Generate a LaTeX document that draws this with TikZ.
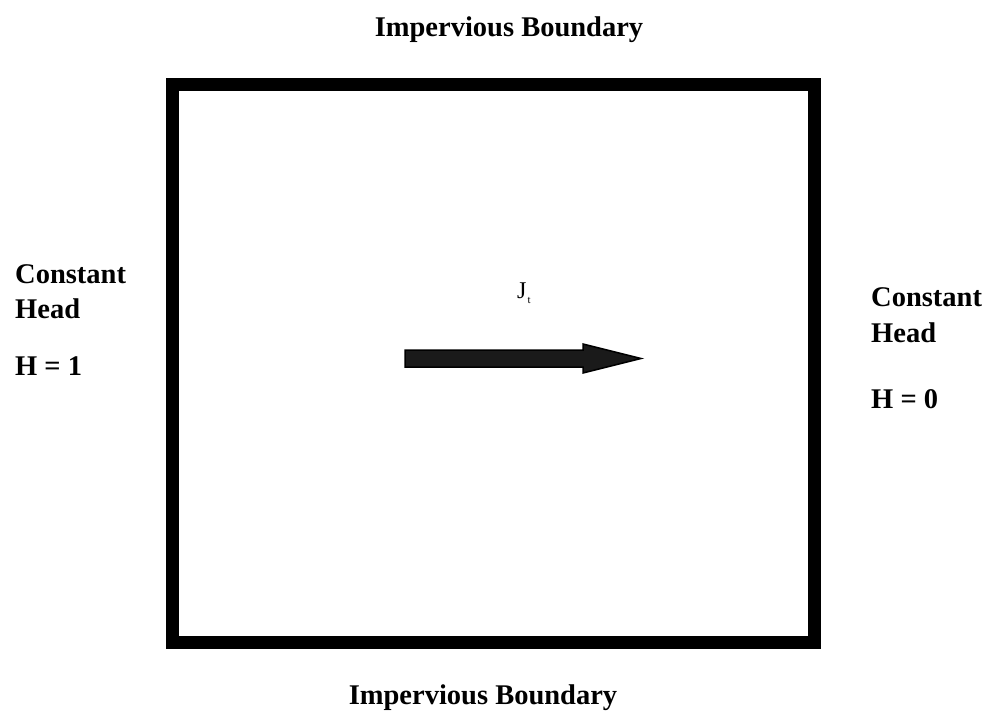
\documentclass[tikz,border=0pt]{standalone}
\usepackage{fontspec}
\usepackage{tikz}
\setmainfont{Liberation Serif}
\definecolor{arrowgray}{HTML}{1A1A1A}

\begin{document}
\begin{tikzpicture}[x=1pt,y=-1pt,
  lbl/.style={font=\bfseries\fontsize{28.5}{34}\selectfont,inner sep=0,anchor=base west},
  ttl/.style={lbl,anchor=base}]
\useasboundingbox (0,0) rectangle (987,726);
\node[draw,line width=13pt,minimum width=641.5pt,minimum height=558.5pt,inner sep=0] (domain) at (493.25,363.25) {};
\node[ttl] (top) at (509,36) {Impervious Boundary};
\node[ttl] (bot) at (483,704) {Impervious Boundary};
\foreach \t/\y [count=\i] in {Constant/283,Head/318,H = 1/375}
  \node[lbl] (left\i) at (15,\y) {\t};
\foreach \t/\y [count=\i] in {Constant/306,Head/342,H = 0/408}
  \node[lbl] (right\i) at (871,\y) {\t};
\filldraw[fill=arrowgray,draw=black,line width=1.5pt] (405,350)--(583,350)--(583,344)--(641,358.5)--(583,373)--(583,367)--(405,367)--cycle;
\node[inner sep=0,anchor=base west] (flux) at (517,298) {\fontsize{24}{28}\selectfont J\kern1pt\raisebox{-5pt}{\fontsize{11}{12}\selectfont t}};
\end{tikzpicture}
\end{document}
